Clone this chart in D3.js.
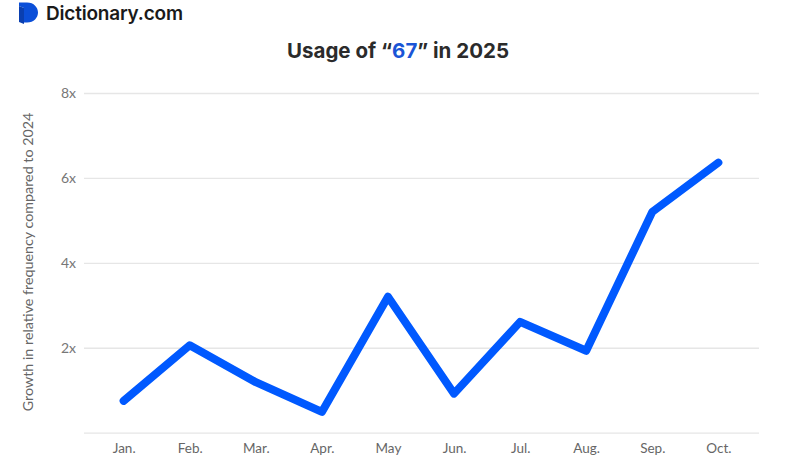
<!DOCTYPE html>
<html><head><meta charset="utf-8">
<script src="https://cdn.jsdelivr.net/npm/d3@7"></script>
<style>
body{margin:0;background:#fff;}
svg{display:block;}
</style></head>
<body>
<svg id="chart" width="804" height="470"></svg>
<script>
const months = ["Jan.","Feb.","Mar.","Apr.","May","Jun.","Jul.","Aug.","Sep.","Oct."];
const growth = [0.75,2.06,1.19,0.49,3.2,0.92,2.61,1.93,5.2,6.36];
const yTicks = [0,2,4,6,8];
const yTickLabels = ["","2x","4x","6x","8x"];

const svg = d3.select("#chart");
const margin = {left:84, right:46, top:93, bottom:37};
const W = 804, H = 470;

const x = d3.scalePoint().domain(months).range([margin.left, W - margin.right]).padding(0.6);
const y = d3.scaleLinear().domain([0,8]).range([H - margin.bottom - 0.3, margin.top]);

// logo
const logo = svg.append("g");
logo.append("path")
  .attr("d","M19,2.5 L27,2.5 C34,2.5 38,7.5 38,12.5 C38,17.5 34,22.5 27,22.5 L24,22.5 L24,8 L19,6 Z")
  .attr("fill","#0b4fd8");
logo.append("path")
  .attr("d","M19,6 L24,8 L24,24 L19,22 Z")
  .attr("fill","#0a3fb0");
logo.append("text").attr("x",46).attr("y",19.5)
  .attr("font-family","Inter, 'Open Sans', sans-serif").attr("font-weight",600)
  .attr("font-size",19).attr("fill","#1a1a1a").attr("letter-spacing","-0.2")
  .text("Dictionary.com");

// title
const title = svg.append("text").attr("x",398).attr("y",58).attr("text-anchor","middle")
  .attr("font-family","Inter, 'Open Sans', sans-serif").attr("font-weight",700)
  .attr("font-size",20.5).attr("fill","#2b2b2b");
title.append("tspan").text("Usage of \u201C");
title.append("tspan").attr("fill","#1a55d6").text("67");
title.append("tspan").text("\u201D in 2025");

// gridlines
const yAxis = d3.axisLeft(y).tickValues(yTicks).tickSize(-(W - margin.right - margin.left + 1))
  .tickFormat((d,i)=>yTickLabels[i]).tickPadding(8);
const gy = svg.append("g").attr("transform",`translate(${margin.left},0)`).call(yAxis);
gy.select(".domain").remove();
gy.selectAll(".tick line").attr("stroke","#e6e6e6").attr("stroke-width",1.3);
gy.selectAll(".tick text").attr("font-family","Lato, sans-serif").attr("font-size",14)
  .attr("fill","#777").attr("dy","0.35em");

// x axis
const xAxis = d3.axisBottom(x).tickSize(0).tickPadding(11);
const gx = svg.append("g").attr("transform",`translate(0,${y(0)})`).call(xAxis);
gx.select(".domain").remove();
gx.selectAll(".tick text").attr("font-family","Lato, sans-serif").attr("font-size",13.5)
  .attr("fill","#666");

// y label
svg.append("text").attr("transform","translate(33,262) rotate(-90)").attr("text-anchor","middle")
  .attr("font-family","Lato, sans-serif").attr("font-size",14.3).attr("fill","#666")
  .text("Growth in relative frequency compared to 2024");

// line
const line = d3.line().x((d,i)=>x(months[i])).y(d=>y(d));
svg.append("path").datum(growth).attr("d",line)
  .attr("fill","none").attr("stroke","#0059ff").attr("stroke-width",8)
  .attr("stroke-linecap","round").attr("stroke-linejoin","round");
</script>
</body></html>
